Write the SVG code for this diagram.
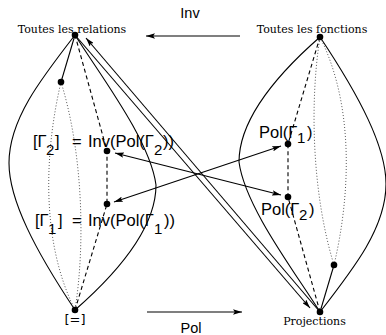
<svg xmlns="http://www.w3.org/2000/svg" width="386" height="335" viewBox="0 0 386 335">
<style>
.ln{fill:none;stroke:#000;stroke-width:1.1}
.dash{fill:none;stroke:#000;stroke-width:1.1;stroke-dasharray:4 3}
.dot{fill:none;stroke:#555;stroke-width:1;stroke-dasharray:1 2}
.nd{fill:#000}
.serif{font-family:"DejaVu Serif","Liberation Serif",serif;font-size:11px;fill:#000}
.m{font-family:"Liberation Sans",Arial,sans-serif;font-size:16.5px;fill:#000}
.s{font-size:15px}
.op{font-family:"Liberation Sans",Arial,sans-serif;font-size:14.5px;fill:#000}
</style>
<defs>
<marker id="ah" viewBox="0 0 10 6" refX="10" refY="3" markerWidth="9" markerHeight="5.4" orient="auto-start-reverse" markerUnits="userSpaceOnUse">
<path d="M0,0 L10,3 L0,6 L2,3 z" fill="#000"/>
</marker>
</defs>

<g id="lens-relations">
<path class="ln" d="M75,35 C40,80 9,120 9,163 C9,200 35,250 75,310"/>
<path class="ln" d="M75,35 C100,75 150,140 156,185 C156,230 115,275 75,310"/>
</g>
<g id="lens-fonctions">
<path class="ln" d="M320,312 C355,267 386,227 386,184 C386,147 360,97 320,37"/>
<path class="ln" d="M320,312 C295,272 245,207 239,162 C239,117 280,72 320,37"/>
</g>

<g id="connectors">
<path class="dot" d="M61,82 C45,150 40,240 75,310"/>
<path class="dot" d="M61,82 C82,150 86,240 75,310"/>
<path class="dot" d="M334,265 C350,197 355,107 320,37"/>
<path class="dot" d="M334,265 C313,197 309,107 320,37"/>
<polyline class="dash" points="75,35 107,151 107,204 75,310"/>
<polyline class="dash" points="320,37 288,144 288,197 320,312"/>
<line class="ln" x1="75" y1="35" x2="61" y2="82"/>
<line class="ln" x1="334" y1="265" x2="320" y2="312"/>
<line class="ln" x1="75" y1="35" x2="310" y2="308" marker-end="url(#ah)"/>
<line class="ln" x1="320" y1="312" x2="86" y2="38" marker-end="url(#ah)"/>
<line class="ln" x1="115" y1="153" x2="281" y2="195" marker-start="url(#ah)" marker-end="url(#ah)"/>
<line class="ln" x1="114" y1="202" x2="281" y2="146" marker-start="url(#ah)" marker-end="url(#ah)"/>
<line class="ln" x1="240" y1="36" x2="146" y2="36" marker-end="url(#ah)"/>
<line class="ln" x1="147" y1="312" x2="242" y2="312" marker-end="url(#ah)"/>
<text class="op" x="190" y="18" text-anchor="middle">Inv</text>
<text class="op" x="191" y="333" text-anchor="middle">Pol</text>
</g>

<g id="toutes-relations">
<text class="serif" x="72" y="33" text-anchor="middle">Toutes les relations</text>
<circle class="nd" cx="75" cy="35" r="3.3"/>
</g>
<g id="relations-d1">
<circle class="nd" cx="61" cy="82" r="3.3"/>
</g>
<g id="gamma2">
<text class="m"><tspan x="33" y="147">[Γ</tspan><tspan class="s" x="46" y="155">2</tspan><tspan x="55" y="147">]</tspan><tspan x="72" y="147">=</tspan><tspan x="88" y="147">Inv(Pol(Γ</tspan><tspan class="s" x="154" y="155">2</tspan><tspan x="163" y="147">))</tspan></text>
<circle class="nd" cx="107" cy="151" r="3.3"/>
</g>
<g id="gamma1">
<text class="m"><tspan x="35" y="226">[Γ</tspan><tspan class="s" x="48" y="234">1</tspan><tspan x="58" y="226">]</tspan><tspan x="72" y="226">=</tspan><tspan x="88" y="226">Inv(Pol(Γ</tspan><tspan class="s" x="154" y="234">1</tspan><tspan x="164" y="226">))</tspan></text>
<circle class="nd" cx="107" cy="204" r="3.3"/>
</g>
<g id="egal">
<circle class="nd" cx="75" cy="310" r="3.3"/>
<text x="75" y="324" text-anchor="middle" style="font-family:'DejaVu Sans',sans-serif;font-size:13px">[=]</text>
</g>

<g id="toutes-fonctions">
<text class="serif" x="312" y="33" text-anchor="middle">Toutes les fonctions</text>
<circle class="nd" cx="320" cy="37" r="3.3"/>
</g>
<g id="pol-gamma1">
<text class="m"><tspan x="259" y="138">Pol(Γ</tspan><tspan class="s" x="297" y="143">1</tspan><tspan x="307" y="138">)</tspan></text>
<circle class="nd" cx="288" cy="144" r="3.3"/>
</g>
<g id="pol-gamma2">
<text class="m"><tspan x="261" y="215">Pol(Γ</tspan><tspan class="s" x="299" y="220">2</tspan><tspan x="309" y="215">)</tspan></text>
<circle class="nd" cx="288" cy="197" r="3.3"/>
</g>
<g id="fonctions-d2">
<circle class="nd" cx="334" cy="265" r="3.3"/>
</g>
<g id="projections">
<circle class="nd" cx="320" cy="312" r="3.3"/>
<text class="serif" x="314.5" y="325" text-anchor="middle">Projections</text>
</g>
</svg>
